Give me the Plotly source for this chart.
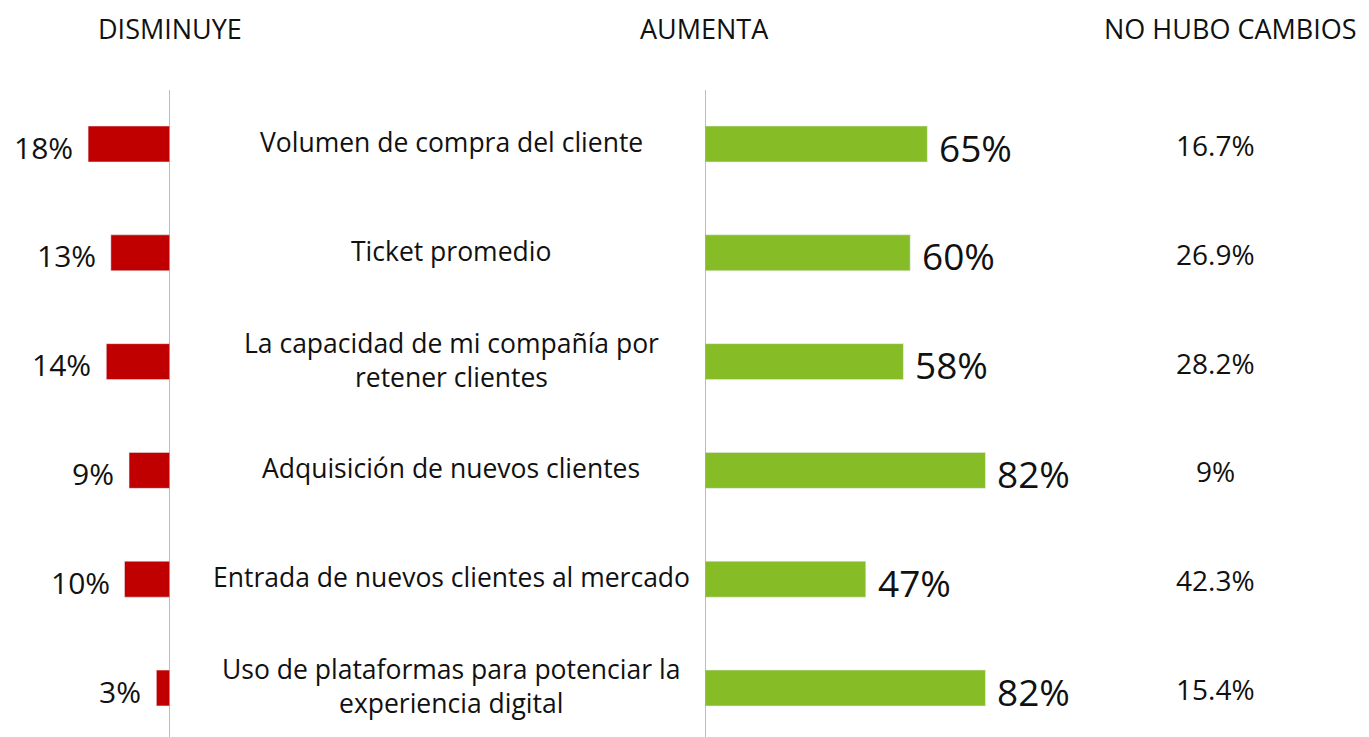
import plotly.graph_objects as go

categories = [
    "Volumen de compra del cliente",
    "Ticket promedio",
    "La capacidad de mi compañía por<br>retener clientes",
    "Adquisición de nuevos clientes",
    "Entrada de nuevos clientes al mercado",
    "Uso de plataformas para potenciar la<br>experiencia digital",
]
disminuye = [18, 13, 14, 9, 10, 3]
aumenta = [65, 60, 58, 82, 47, 82]
no_hubo = ["16.7%", "26.9%", "28.2%", "9%", "42.3%", "15.4%"]
headers = ["DISMINUYE", "AUMENTA", "NO HUBO CAMBIOS"]

OFF = 8  # default body margin of the page
W, H = 1369 - OFF, 737 - OFF
FONT = "Open Sans"
RED = "#C00000"
GREEN = "#86BC25"

rows = list(range(len(categories)))
row0, step = 144 - OFF, 108.8
yr = [(H - row0) / step, -row0 / step]
left_axis = 170 - OFF
right_axis = 705 - OFF

fig = go.Figure()
fig.add_trace(go.Bar(x=disminuye, y=rows, orientation="h", marker_color=RED,
                     width=0.33, xaxis="x", yaxis="y", hoverinfo="skip"))
fig.add_trace(go.Bar(x=aumenta, y=rows, orientation="h", marker_color=GREEN,
                     width=0.33, xaxis="x2", yaxis="y", hoverinfo="skip"))

ann = []
for i, v in enumerate(disminuye):
    ann.append(dict(x=v, y=i, xref="x", yref="y", text=f"{v}%", showarrow=False,
                    xanchor="right", xshift=-13, yshift=-3,
                    font=dict(family=FONT, size=30, color="#111")))
for i, v in enumerate(aumenta):
    ann.append(dict(x=v, y=i, xref="x2", yref="y", text=f"{v}%", showarrow=False,
                    xanchor="left", xshift=10, yshift=-3,
                    font=dict(family=FONT, size=37, color="#111")))
for i, c in enumerate(categories):
    ann.append(dict(x=(451 - OFF) / W, y=i, xref="paper", yref="y", text=c, showarrow=False,
                    xanchor="center", yshift=2,
                    font=dict(family=FONT, size=26.5, color="#111")))
for i, t in enumerate(no_hubo):
    ann.append(dict(x=(1215 - OFF) / W, y=i, xref="paper", yref="y", text=t, showarrow=False,
                    xanchor="center", yshift=-1,
                    font=dict(family=FONT, size=28, color="#111")))
for t, cx in zip(headers, [170, 704, 1230]):
    ann.append(dict(x=(cx - OFF) / W, y=1, xref="paper", yref="paper", text=t,
                    showarrow=False, xanchor="center", yanchor="top",
                    font=dict(family=FONT, size=27, color="#111")))

line_top = (90 - OFF - row0) / step
shapes = [
    dict(type="line", xref="x", yref="y", x0=0, x1=0, y0=line_top, y1=yr[0],
         line=dict(color="#A6A6A6", width=1.5)),
    dict(type="line", xref="x2", yref="y", x0=0, x1=0, y0=line_top, y1=yr[0],
         line=dict(color="#A6A6A6", width=1.5)),
]

fig.update_layout(
    width=W, height=H, margin=dict(l=0, r=0, t=0, b=0),
    paper_bgcolor="white", plot_bgcolor="rgba(0,0,0,0)", showlegend=False,
    xaxis=dict(domain=[0, left_axis / W], range=[left_axis / 4.55, 0], visible=False, fixedrange=True),
    xaxis2=dict(domain=[right_axis / W, 1], range=[0, (W - right_axis) / 3.42], visible=False, fixedrange=True),
    yaxis=dict(range=yr, visible=False, fixedrange=True),
    annotations=ann, shapes=shapes,
)
fig.write_html("out.html", config={"displayModeBar": False})
